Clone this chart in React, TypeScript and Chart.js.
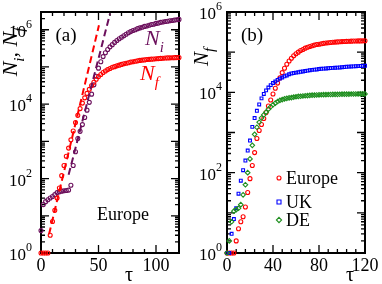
import React, { useEffect, useRef } from "react";
import { Chart, registerables } from "chart.js";

Chart.register(...registerables);

const FONT = "'Liberation Serif', 'DejaVu Serif', serif";
const RED = "#ff0000";
const PURPLE = "#6b0f5c";
const BLUE = "#0000ff";
const GREEN = "#1f8f1f";

// time axis (days), sampled every 2 days
const tau = [
  0, 2, 4, 6, 8, 10, 12, 14, 16, 18, 20, 22, 24, 26, 28, 30, 32, 34, 36, 38, 40,
  42, 44, 46, 48, 50, 52, 54, 56, 58, 60, 62, 64, 66, 68, 70, 72, 74, 76, 78, 80,
  82, 84, 86, 88, 90, 92, 94, 96, 98, 100, 102, 104, 106, 108, 110, 112, 114, 116, 118, 120,
];

// panel (a): Europe, N_f and N_i
const nfEuropeA = [
  1, 1, 1, 1, 3, 7, 14, 30, 56, 120, 224, 400, 660, 1100, 1900, 3200, 5000, 7600, 10700, 14800, 19500,
  25000, 31600, 39000, 46800, 55000, 63000, 71000, 78000, 85000, 91000, 98000, 102000, 107000, 112000, 117000, 122000, 126000, 130000, 135000, 138000,
  143000, 146000, 150000, 153000, 155000, 158000, 160000, 162000, 164000, 166000, 168000, 170000, 172000, 174000, 175000, 176000, 177000, 178000, 178500, 179000,
];
const niEuropeA = [
  4, 20, 24, 27, 30, 33, 37, 42, 44, 46, 47, 48, 49, 66, 224, 525, 1200, 1860, 2820, 4370, 6900,
  11200, 18600, 33100, 56200, 93000, 138000, 190000, 240000, 295000, 347000, 398000, 457000, 513000, 575000, 631000, 692000, 759000, 832000, 891000, 955000,
  1000000, 1070000, 1120000, 1170000, 1230000, 1260000, 1320000, 1380000, 1410000, 1480000, 1510000, 1580000, 1620000, 1660000, 1700000, 1740000, 1780000, 1820000, 1860000, 1900000,
];
// exponential fits (dashed), end points
const fitNfTau = [7, 50.4];
const fitNfVal = [3.2, 1320000];
const fitNiTau = [24, 60];
const fitNiVal = [126, 2690000];

// panel (b): N_f for Europe, UK, DE
const europeB = [
  1, 1, 1, 1, 2, 4, 6, 8, 14, 32, 71, 151, 316, 708, 1120, 1580, 2240, 3160, 4570, 6460, 9120,
  12600, 17000, 22900, 30900, 39800, 50100, 60300, 70800, 81300, 91200, 100000, 110000, 117000, 126000, 132000, 138000, 145000, 150000, 155000, 158000,
  162000, 166000, 169000, 172000, 174000, 176000, 178000, 180000, 182000, 183000, 184500, 186000, 187000, 188000, 189000, 190000, 190500, 191000, 191500, 192000,
];
const ukB = [
  1, 1, 3, 7, 13, 30, 63, 115, 200, 355, 630, 1380, 2290, 3470, 5000, 7080, 9120, 11200, 13200, 15100, 17000,
  18600, 20400, 21900, 23400, 25100, 26300, 28200, 29500, 30200, 30900, 31600, 32400, 33100, 33900, 34700, 35500, 36300, 36700, 37200, 38000,
  38500, 38900, 39400, 39800, 40300, 40700, 40900, 41200, 41700, 42200, 42700, 43200, 43700, 44000, 44300, 44700, 45000, 45300, 45500, 45700,
];
const deB = [
  1, 2, 6, 11, 12, 13, 16, 28, 50, 100, 220, 480, 900, 1350, 1800, 2300, 2750, 3200, 3800, 4370, 4900,
  5370, 5900, 6310, 6600, 6900, 7080, 7250, 7400, 7600, 7760, 7900, 8000, 8100, 8200, 8300, 8400, 8500, 8550, 8600, 8650,
  8700, 8750, 8780, 8810, 8840, 8870, 8900, 8930, 8960, 8990, 9010, 9030, 9050, 9070, 9090, 9100, 9110, 9120, 9125, 9130,
];

const xLabelsA = [0, 50, 100];
const xLabelsB = [0, 40, 80, 120];
const yLabelExps = [0, 2, 4, 6];
const legendNames = ["Europe", "UK", "DE"];

const pts = (xs: number[], ys: number[]) => xs.map((x, i) => ({ x, y: ys[i] }));

type Part = { t: string; sub?: boolean; sup?: boolean; it?: boolean };

function rich(
  ctx: CanvasRenderingContext2D,
  x: number,
  y: number,
  parts: Part[],
  size: number,
  align: "left" | "center" | "right",
  color: string
) {
  const fontFor = (p: Part) =>
    `${p.it ? "italic " : ""}${p.sub || p.sup ? Math.round(size * 0.7) : size}px ${FONT}`;
  let w = 0;
  for (const p of parts) {
    ctx.font = fontFor(p);
    w += ctx.measureText(p.t).width;
  }
  let cx = align === "left" ? x : align === "center" ? x - w / 2 : x - w;
  ctx.fillStyle = color;
  ctx.textAlign = "left";
  ctx.textBaseline = "alphabetic";
  for (const p of parts) {
    ctx.font = fontFor(p);
    const dy = p.sub ? size * 0.3 : p.sup ? -size * 0.52 : 0;
    ctx.fillText(p.t, cx, y + dy);
    cx += ctx.measureText(p.t).width;
  }
}

function marker(ctx: CanvasRenderingContext2D, kind: string, x: number, y: number, r: number, color: string) {
  ctx.save();
  ctx.strokeStyle = color;
  ctx.lineWidth = 1.1;
  ctx.beginPath();
  if (kind === "circle") ctx.arc(x, y, r, 0, Math.PI * 2);
  else if (kind === "rect") ctx.rect(x - r, y - r, 2 * r, 2 * r);
  else {
    ctx.moveTo(x, y - r * 1.3);
    ctx.lineTo(x + r * 1.3, y);
    ctx.lineTo(x, y + r * 1.3);
    ctx.lineTo(x - r * 1.3, y);
    ctx.closePath();
  }
  ctx.stroke();
  ctx.restore();
}

type AxesOpts = {
  xMinorStep: number;
  xLabels: number[];
  yLabelRight: number;
  extra: (ctx: CanvasRenderingContext2D, a: any, chart: any) => void;
};

function axesPlugin(o: AxesOpts) {
  return {
    id: "axesFrame",
    beforeDatasetsDraw(chart: any) {
      const { ctx, chartArea: a } = chart;
      const xs = chart.scales.x;
      const ys = chart.scales.y;
      ctx.save();
      ctx.strokeStyle = "#000";
      ctx.lineWidth = 1.3;
      ctx.beginPath();
      for (let v = xs.min; v <= xs.max + 1e-6; v += o.xMinorStep) {
        const px = xs.getPixelForValue(v);
        const len = o.xLabels.includes(v) ? 8 : 4;
        ctx.moveTo(px, a.bottom);
        ctx.lineTo(px, a.bottom - len);
        ctx.moveTo(px, a.top);
        ctx.lineTo(px, a.top + len);
      }
      for (let e = 0; e <= 7; e++) {
        for (let m = 1; m <= 9; m++) {
          const v = m * Math.pow(10, e);
          if (v < ys.min || v > ys.max) continue;
          const py = ys.getPixelForValue(v);
          const len = m === 1 ? 8 : 4;
          ctx.moveTo(a.left, py);
          ctx.lineTo(a.left + len, py);
          ctx.moveTo(a.right, py);
          ctx.lineTo(a.right - len, py);
        }
      }
      ctx.stroke();
      ctx.lineWidth = 2;
      ctx.strokeRect(a.left, a.top, a.right - a.left, a.bottom - a.top);
      ctx.restore();
    },
    afterDraw(chart: any) {
      const { ctx, chartArea: a } = chart;
      const xs = chart.scales.x;
      const ys = chart.scales.y;
      ctx.save();
      for (const v of o.xLabels) {
        rich(ctx, xs.getPixelForValue(v), a.bottom + 18, [{ t: String(v) }], 18, "center", "#000");
      }
      for (const e of yLabelExps) {
        const py = ys.getPixelForValue(Math.pow(10, e));
        rich(ctx, a.left - o.yLabelRight, py + 7, [{ t: "10" }, { t: String(e), sup: true }], 17, "right", "#000");
      }
      o.extra(ctx, a, chart);
      ctx.restore();
    },
  };
}

const baseOptions = (yMax: number, yWidth: number, padRight: number) => ({
  animation: false as const,
  responsive: false,
  events: [] as any[],
  layout: { padding: { top: 12, right: padRight, left: 0, bottom: 0 } },
  plugins: { legend: { display: false }, tooltip: { enabled: false } },
  scales: {
    x: {
      type: "linear" as const,
      min: 0,
      max: 120,
      ticks: { display: false },
      grid: { display: false },
      border: { display: false },
      afterFit: (s: any) => {
        s.height = 31;
      },
    },
    y: {
      type: "logarithmic" as const,
      min: 1,
      max: yMax,
      ticks: { display: false },
      grid: { display: false },
      border: { display: false },
      afterFit: (s: any) => {
        s.width = yWidth;
      },
    },
  },
});

const scatterSet = (data: any[], color: string, style: string, r: number) => ({
  data,
  showLine: false,
  pointStyle: style,
  pointRadius: r,
  pointHoverRadius: r,
  pointBorderWidth: 1.1,
  borderColor: color,
  pointBorderColor: color,
  backgroundColor: "rgba(0,0,0,0)",
  pointBackgroundColor: "rgba(0,0,0,0)",
  clip: false as const,
});

const dashSet = (data: any[], color: string) => ({
  data,
  showLine: true,
  borderColor: color,
  borderWidth: 2,
  borderDash: [7, 4],
  pointRadius: 0,
  clip: false as const,
});

export default function App() {
  const refA = useRef<HTMLCanvasElement>(null);
  const refB = useRef<HTMLCanvasElement>(null);

  useEffect(() => {
    const chartA = new Chart(refA.current!, {
      type: "scatter",
      data: {
        datasets: [
          dashSet(pts(fitNfTau, fitNfVal), RED),
          dashSet(pts(fitNiTau, fitNiVal), PURPLE),
          scatterSet(pts(tau, nfEuropeA), RED, "circle", 2),
          scatterSet(pts(tau, niEuropeA), PURPLE, "circle", 2),
        ] as any,
      },
      options: baseOptions(3e6, 41, 12) as any,
      plugins: [
        axesPlugin({
          xMinorStep: 10,
          xLabels: xLabelsA,
          yLabelRight: 9,
          extra: (ctx, a) => {
            rich(ctx, 66, 41, [{ t: "(a)" }], 19, "center", "#000");
            rich(ctx, 145, 45, [{ t: "N", it: true }, { t: "i", it: true, sub: true }], 22, "left", PURPLE);
            rich(ctx, 140, 80, [{ t: "N", it: true }, { t: "f", it: true, sub: true }], 22, "left", RED);
            rich(ctx, 97, 220, [{ t: "Europe" }], 18, "left", "#000");
            rich(ctx, 129, 281, [{ t: "τ" }], 20, "center", "#000");
            ctx.save();
            ctx.translate(17, 52);
            ctx.rotate(-Math.PI / 2);
            rich(
              ctx,
              0,
              0,
              [
                { t: "N", it: true },
                { t: "i", it: true, sub: true },
                { t: ", ", it: true },
                { t: "N", it: true },
                { t: "f", it: true, sub: true },
              ],
              22,
              "center",
              "#000"
            );
            ctx.restore();
          },
        }),
      ],
    });

    const chartB = new Chart(refB.current!, {
      type: "scatter",
      data: {
        datasets: [
          scatterSet(pts(tau, deB), GREEN, "rectRot", 2.3),
          scatterSet(pts(tau, ukB), BLUE, "rect", 2),
          scatterSet(pts(tau, europeB), RED, "circle", 2),
        ] as any,
      },
      options: baseOptions(1e6, 36, 17) as any,
      plugins: [
        axesPlugin({
          xMinorStep: 8,
          xLabels: xLabelsB,
          yLabelRight: 5,
          extra: (ctx, a) => {
            rich(ctx, 61, 41, [{ t: "(b)" }], 19, "center", "#000");
            rich(ctx, 159, 281, [{ t: "τ" }], 20, "center", "#000");
            const colors = [RED, BLUE, GREEN];
            const kinds = ["circle", "rect", "diamond"];
            const ys = [178, 202, 220];
            legendNames.forEach((name, i) => {
              marker(ctx, kinds[i], 88, ys[i], 2, colors[i]);
              rich(ctx, 95, ys[i] + 6, [{ t: name }], 18, "left", "#000");
            });
            ctx.save();
            ctx.translate(17, 57);
            ctx.rotate(-Math.PI / 2);
            rich(ctx, 0, 0, [{ t: "N", it: true }, { t: "f", it: true, sub: true }], 21, "center", "#000");
            ctx.restore();
          },
        }),
      ],
    });

    return () => {
      chartA.destroy();
      chartB.destroy();
    };
  }, []);

  return (
    <div style={{ position: "fixed", left: 0, top: 0, width: 382, height: 284, background: "#fff" }}>
      <canvas ref={refA} width={191} height={284} style={{ position: "absolute", left: 0, top: 0 }} />
      <canvas ref={refB} width={191} height={284} style={{ position: "absolute", left: 191, top: 0 }} />
    </div>
  );
}
